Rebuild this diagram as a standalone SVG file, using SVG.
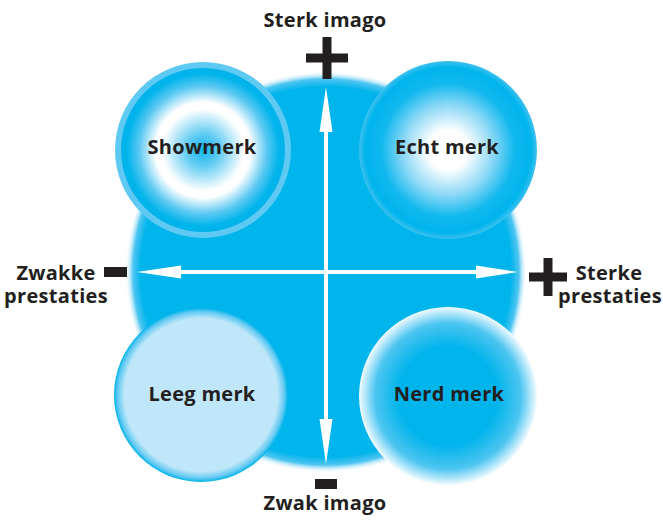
<svg xmlns="http://www.w3.org/2000/svg" width="663" height="520" viewBox="0 0 663 520">
  <style>
    .lbl { font-family: "Open Sans", "Liberation Sans", sans-serif; font-weight: 700; font-size: 20px; letter-spacing: 0.3px; fill: #231f20; text-anchor: middle; }
    .mark { fill: #231f20; }
    .axis { fill: #ffffff; }
  </style>
  <defs>
    <!-- large backdrop disc with a feathered rim -->
    <radialGradient id="gBack" cx="0.5" cy="0.5" r="0.5">
      <stop offset="0" stop-color="#00b4ec"/>
      <stop offset="0.92" stop-color="#00b4ec"/>
      <stop offset="0.96" stop-color="#4ec5f1"/>
      <stop offset="1" stop-color="#ffffff" stop-opacity="0"/>
    </radialGradient>
    <!-- Showmerk: blue core, white ring, blue rim -->
    <radialGradient id="gShow" cx="0.5" cy="0.5" r="0.5">
      <stop offset="0" stop-color="#10b8ee"/>
      <stop offset="0.2" stop-color="#62ccf3"/>
      <stop offset="0.5" stop-color="#ffffff"/>
      <stop offset="0.58" stop-color="#ffffff"/>
      <stop offset="0.78" stop-color="#5ac8f2"/>
      <stop offset="0.93" stop-color="#00b4ec"/>
      <stop offset="1" stop-color="#00b2ea"/>
    </radialGradient>
    <!-- Echt merk: white centre to blue -->
    <radialGradient id="gEcht" cx="0.5" cy="0.5" r="0.5">
      <stop offset="0" stop-color="#ffffff"/>
      <stop offset="0.22" stop-color="#ffffff"/>
      <stop offset="0.5" stop-color="#8fd9f6"/>
      <stop offset="0.75" stop-color="#10b8ee"/>
      <stop offset="0.93" stop-color="#00b4ec"/>
      <stop offset="1" stop-color="#3ec1f0"/>
    </radialGradient>
    <!-- Leeg merk: pale fill, blue feathered rim -->
    <radialGradient id="gLeeg" cx="0.5" cy="0.5" r="0.5">
      <stop offset="0" stop-color="#bfe7f9"/>
      <stop offset="0.88" stop-color="#bfe7f9"/>
      <stop offset="0.96" stop-color="#60c9f2"/>
      <stop offset="1" stop-color="#00b4ec"/>
    </radialGradient>
    <!-- Nerd merk: blue centre fading to white rim -->
    <radialGradient id="gNerd" cx="0.5" cy="0.5" r="0.5">
      <stop offset="0" stop-color="#00b4ec"/>
      <stop offset="0.55" stop-color="#00b4ec"/>
      <stop offset="0.82" stop-color="#4cc5f1"/>
      <stop offset="1" stop-color="#f2fbff"/>
    </radialGradient>
  </defs>

  <rect width="663" height="520" fill="#ffffff"/>

  <!-- backdrop disc -->
  <circle cx="326" cy="272" r="201" fill="url(#gBack)"/>

  <g id="showmerk">
    <circle cx="203" cy="150" r="88" fill="#5ec9f2"/>
    <circle cx="203" cy="150" r="82" fill="url(#gShow)"/>
    <text class="lbl" x="202" y="154">Showmerk</text>
  </g>

  <g id="echt-merk">
    <circle cx="448" cy="150" r="89" fill="url(#gEcht)"/>
    <text class="lbl" x="447" y="154">Echt merk</text>
  </g>

  <g id="leeg-merk">
    <circle cx="201" cy="395" r="87" fill="url(#gLeeg)"/>
    <text class="lbl" x="202" y="401">Leeg merk</text>
  </g>

  <g id="nerd-merk">
    <circle cx="448" cy="396" r="89" fill="url(#gNerd)"/>
    <text class="lbl" x="449" y="401">Nerd merk</text>
  </g>

  <!-- double-headed axes -->
  <g id="connectors">
    <rect class="axis" x="324" y="120" width="4" height="310"/>
    <polygon class="axis" points="326,87 332.5,132 319.5,132"/>
    <polygon class="axis" points="326,464 332.5,419 319.5,419"/>
    <rect class="axis" x="170" y="270" width="320" height="4"/>
    <polygon class="axis" points="137,272 181,265.5 181,278.5"/>
    <polygon class="axis" points="518,272 476,265.5 476,278.5"/>
  </g>

  <g id="sterk-imago">
    <text class="lbl" x="325" y="27">Sterk imago</text>
    <rect class="mark" x="306" y="53.5" width="42" height="9"/>
    <rect class="mark" x="322.5" y="37" width="9" height="42"/>
  </g>

  <g id="zwak-imago">
    <rect class="mark" x="315" y="479" width="22" height="10"/>
    <text class="lbl" x="325" y="510">Zwak imago</text>
  </g>

  <g id="zwakke-prestaties">
    <rect class="mark" x="104" y="267" width="23" height="10"/>
    <text class="lbl"><tspan x="56" y="280">Zwakke</tspan><tspan x="56" y="303">prestaties</tspan></text>
  </g>

  <g id="sterke-prestaties">
    <rect class="mark" x="529" y="272.5" width="38" height="9"/>
    <rect class="mark" x="543.5" y="258" width="9" height="38"/>
    <text class="lbl"><tspan x="609" y="280">Sterke</tspan><tspan x="610" y="303">prestaties</tspan></text>
  </g>
</svg>
